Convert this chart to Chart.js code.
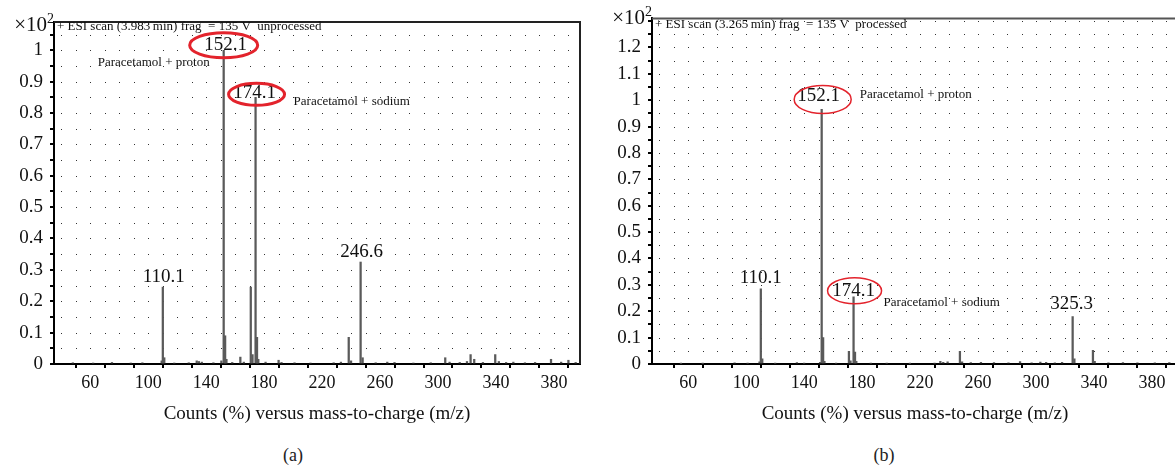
<!DOCTYPE html>
<html>
<head>
<meta charset="utf-8">
<script src="https://cdn.jsdelivr.net/npm/chart.js@4.4.1/dist/chart.umd.min.js"></script>
<style>
  html, body { margin: 0; padding: 0; background: #fff; overflow: hidden; width: 1175px; height: 469px; }
  .panel { position: absolute; top: 0; }
  .cap { position: absolute; top: 445px; font: 18px "Liberation Serif", serif; color: #222; transform: translateX(-50%); }
</style>
</head>
<body>
<div class="panel" style="left:0"><canvas id="chartA" width="585" height="430"></canvas></div>
<div class="panel" style="left:585px"><canvas id="chartB" width="600" height="430"></canvas></div>
<div class="cap" style="left:293px">(a)</div>
<div class="cap" style="left:884px">(b)</div>
<script>
// (a) unprocessed spectrum, counts x10^2
const mzA = [48, 62, 75, 88, 96, 109.3, 110.1, 111.1, 118, 128, 133.5, 135, 137, 145, 150.5, 152.1, 153.1, 154,
  158, 163.6, 166, 170.8, 172, 174.1, 175.1, 176, 181, 190, 192, 201, 212, 228, 233, 238.4, 240, 246.6, 248,
  257, 265, 270, 283, 295, 305, 308, 315, 320, 322.5, 325, 331, 339.5, 342, 347, 352, 360, 367, 378, 385, 390, 395];
const countsA = [0.004, 0.003, 0.005, 0.003, 0.004, 0.01, 0.245, 0.02, 0.003, 0.004, 0.01, 0.008, 0.006, 0.004, 0.01, 1.0, 0.09, 0.015,
  0.005, 0.022, 0.006, 0.245, 0.03, 0.85, 0.085, 0.015, 0.006, 0.012, 0.005, 0.004, 0.003, 0.004, 0.006, 0.085, 0.01, 0.325, 0.02,
  0.004, 0.006, 0.005, 0.003, 0.004, 0.02, 0.006, 0.005, 0.008, 0.03, 0.015, 0.005, 0.03, 0.008, 0.005, 0.006, 0.004, 0.005, 0.015, 0.006, 0.012, 0.005];

// (b) processed spectrum
const mzB = [55, 70, 92, 101, 109.2, 110.1, 111.1, 120, 135, 140, 151, 152.1, 153.1, 154, 162, 170.9, 172, 174.1, 175.1, 176,
  186, 197, 213, 230, 234, 236, 239, 247.5, 249, 255, 262, 271, 281, 289, 297, 303, 307, 313, 318, 325.3, 326.5, 339.3, 340.5,
  350, 360, 370, 382, 392];
const countsB = [0.002, 0.002, 0.004, 0.003, 0.008, 0.285, 0.02, 0.003, 0.005, 0.003, 0.006, 0.965, 0.1, 0.01, 0.003, 0.048, 0.012, 0.255, 0.045, 0.01,
  0.003, 0.003, 0.002, 0.003, 0.01, 0.006, 0.008, 0.048, 0.008, 0.005, 0.006, 0.005, 0.004, 0.009, 0.004, 0.007, 0.006, 0.004, 0.006, 0.18, 0.02, 0.052, 0.01,
  0.004, 0.005, 0.004, 0.004, 0.005];

// labelled peaks
const peaksA = [110.1, 152.1, 174.1, 246.6];
const peakValsA = [0.245, 1.0, 0.85, 0.325];
const peaksB = [110.1, 152.1, 174.1, 325.3];
const peakValsB = [0.285, 0.965, 0.255, 0.18];

const xTicksShown = [60, 100, 140, 180, 220, 260, 300, 340, 380];
const SERIF = '"Liberation Serif", "DejaVu Serif", serif';

// dotted background grid + frame + annotations
const specDeco = {
  id: 'specDeco',
  beforeDatasetsDraw(chart) {
    const {ctx, scales: {x, y}} = chart;
    ctx.save();
    ctx.fillStyle = '#333';
    for (let m = 40; m <= x.max; m += 10) {
      for (let v = 0.05; v <= y.max; v += 0.05) {
        ctx.fillRect(Math.round(x.getPixelForValue(m)), Math.round(y.getPixelForValue(v)), 1, 1);
      }
    }
    ctx.restore();
  },
  afterDraw(chart, args, o) {
    const {ctx, chartArea: a, scales: {x, y}} = chart;
    ctx.save();
    // frame top / right
    ctx.strokeStyle = o.frameColor;
    ctx.lineWidth = 2;
    ctx.beginPath();
    ctx.moveTo(a.left, a.top);
    ctx.lineTo(a.right, a.top);
    ctx.lineTo(a.right, a.bottom);
    ctx.stroke();

    // x10^2 multiplier
    ctx.fillStyle = '#111';
    ctx.textBaseline = 'alphabetic';
    ctx.textAlign = 'right';
    ctx.font = '14px ' + SERIF;
    ctx.fillText('2', a.left, a.top + o.multDy - 8);
    const w2 = ctx.measureText('2').width;
    ctx.font = '21px ' + SERIF;
    ctx.fillText('\u00d710', a.left - w2, a.top + o.multDy);

    // header
    ctx.textAlign = 'left';
    ctx.textBaseline = 'middle';
    ctx.font = '13px ' + SERIF;
    ctx.fillText(o.header, a.left + 3, a.top + o.headerDy);

    // peak labels
    o.peaks.forEach((m, i) => {
      const px = x.getPixelForValue(m);
      const py = y.getPixelForValue(o.vals[i]);
      const s = o.style[i];
      const lx = px + s.dx, ly = py + s.dy;
      ctx.font = '19px ' + SERIF;
      ctx.textAlign = 'center';
      ctx.fillStyle = '#111';
      ctx.fillText(m.toFixed(1), lx, ly);
      if (s.ring) {
        ctx.strokeStyle = '#e3232c';
        ctx.lineWidth = s.ring.lw;
        ctx.beginPath();
        ctx.ellipse(lx + s.ring.dx, ly + s.ring.dy, s.ring.rx, s.ring.ry, 0, 0, Math.PI * 2);
        ctx.stroke();
      }
      if (s.note) {
        ctx.font = '13px ' + SERIF;
        ctx.textAlign = 'left';
        ctx.fillText(s.note.text, px + s.note.dx, py + s.note.dy);
      }
    });
    ctx.restore();
  }
};

function makeSpectrum(id, mz, counts, yMax, yLabelMax, yAxisW, pad, deco) {
  return new Chart(document.getElementById(id), {
    type: 'bar',
    data: {
      datasets: [{
        data: mz.map((m, i) => ({x: m, y: counts[i]})),
        backgroundColor: '#5a5a5a',
        borderWidth: 0,
        barThickness: 1.6,
        grouped: false
      }]
    },
    options: {
      responsive: false,
      animation: false,
      layout: {padding: pad},
      plugins: {legend: {display: false}, tooltip: {enabled: false}, specDeco: deco},
      scales: {
        x: {
          type: 'linear', min: 35, max: 398, offset: false,
          border: {color: '#000', width: 2},
          grid: {drawOnChartArea: false, color: '#000', lineWidth: 2, tickLength: 4},
          ticks: {
            stepSize: 20, includeBounds: false, autoSkip: false, maxRotation: 0, padding: 4,
            color: '#111', font: {family: SERIF, size: 18},
            callback: v => xTicksShown.includes(v) ? String(v) : ''
          },
          title: {display: true, text: 'Counts (%) versus mass-to-charge (m/z)', color: '#111',
            font: {family: SERIF, size: 19}, padding: {top: 4, bottom: 5}},
          afterFit: s => { s.height = 66; }
        },
        y: {
          min: 0, max: yMax,
          border: {color: '#000', width: 2},
          grid: {drawOnChartArea: false, color: '#000', lineWidth: 2, tickLength: 4},
          ticks: {
            stepSize: 0.05, includeBounds: false, autoSkip: false, padding: 7,
            color: '#111', font: {family: SERIF, size: 19},
            callback: v => {
              const t = Math.round(v * 10);
              return (Math.abs(v * 10 - t) < 1e-6 && v <= yLabelMax) ? String(t / 10) : '';
            }
          },
          afterFit: s => { s.width = yAxisW; }
        }
      }
    },
    plugins: [specDeco]
  });
}

makeSpectrum('chartA', mzA, countsA, 1.09, 1.0, 54, {top: 22, right: 5, left: 0, bottom: 0}, {
  frameColor: '#222', multDy: 9, headerDy: 5,
  header: '+ ESI scan (3.983\u2009min) frag  = 135 V  unprocessed',
  peaks: peaksA, vals: peakValsA,
  style: [
    {dx: 1, dy: -10},
    {dx: 2, dy: -5, ring: {dx: -2, dy: 0, rx: 34, ry: 12.5, lw: 3},
      note: {text: 'Paracetamol + proton', dx: -126, dy: 12}},
    {dx: -1, dy: -4, ring: {dx: 2, dy: 1, rx: 28, ry: 11, lw: 3},
      note: {text: 'Paracetamol + sodium', dx: 38, dy: 4}},
    {dx: 1, dy: -10}
  ]
});

makeSpectrum('chartB', mzB, countsB, 1.31, 1.2, 67, {top: 14, right: 7, left: 0, bottom: 0}, {
  frameColor: '#555', multDy: 6, headerDy: 6,
  header: '+ ESI scan (3.265\u2009min) frag  = 135 V  processed',
  peaks: peaksB, vals: peakValsB,
  style: [
    {dx: 0, dy: -11},
    {dx: -3, dy: -13, ring: {dx: 4, dy: 3, rx: 28.5, ry: 14, lw: 1.5},
      note: {text: 'Paracetamol + proton', dx: 38, dy: -15}},
    {dx: 0, dy: -6, ring: {dx: 1, dy: 0, rx: 27, ry: 13, lw: 1.5},
      note: {text: 'Paracetamol + sodium', dx: 30, dy: 6}},
    {dx: -1, dy: -12}
  ]
});
</script>
</body>
</html>
